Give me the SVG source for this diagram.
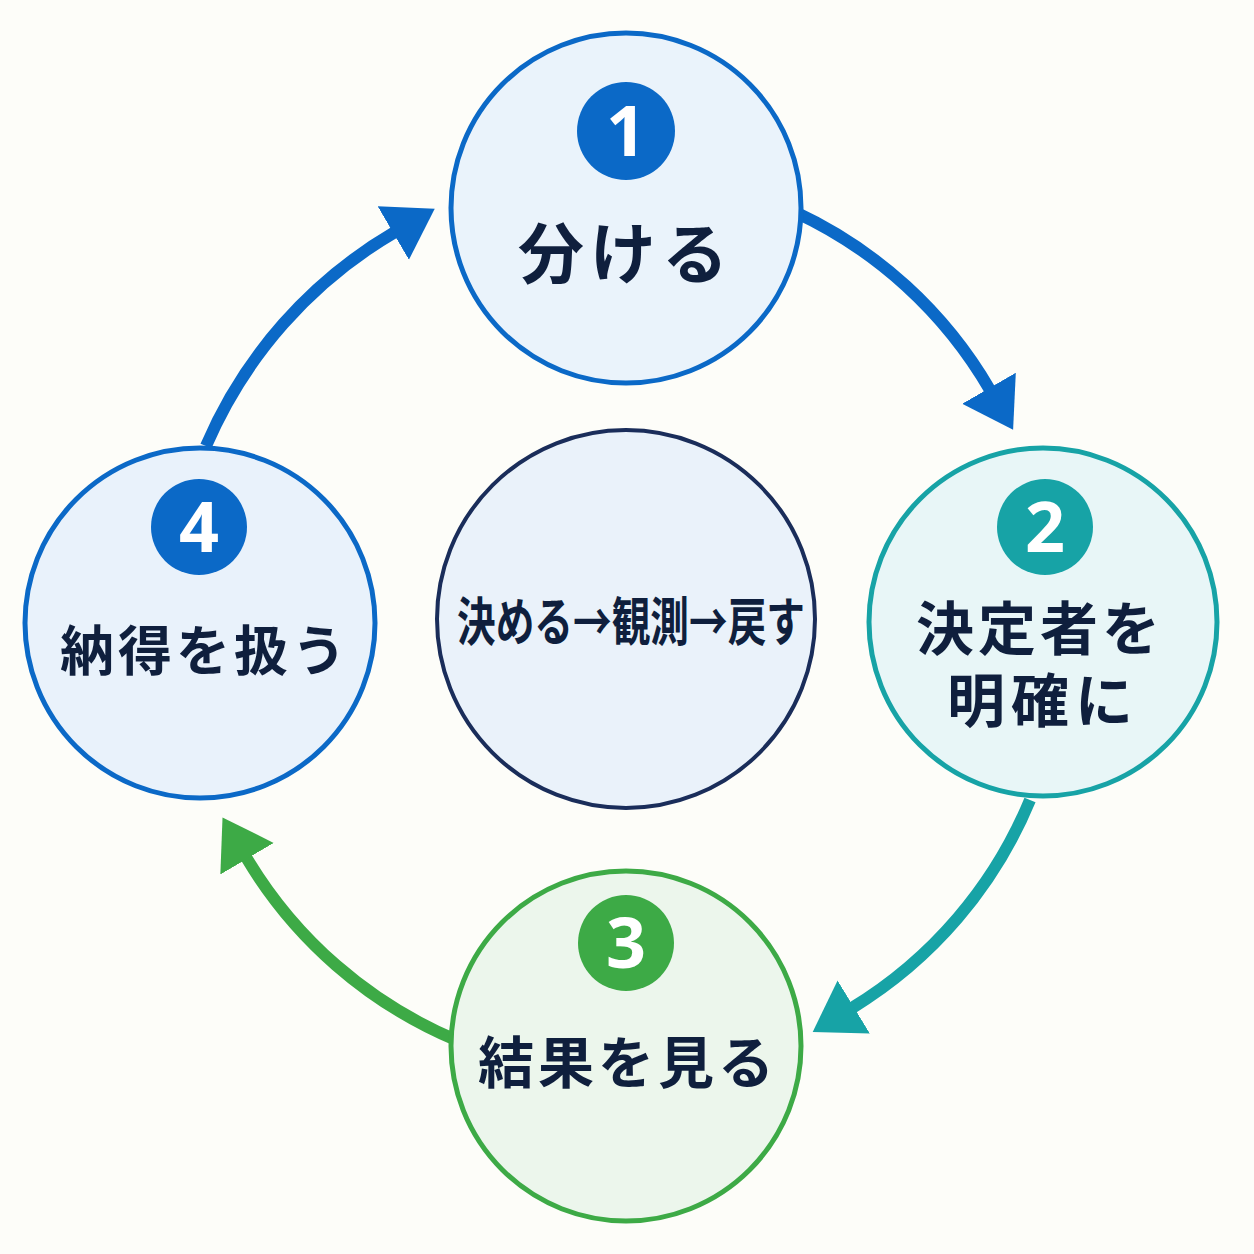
<svg xmlns="http://www.w3.org/2000/svg" width="1254" height="1254" viewBox="0 0 1254 1254">
<style>
.lbl{font-family:"Noto Sans CJK JP","Noto Sans",sans-serif;font-weight:700;fill:#0f1f3d;text-anchor:middle}
.num{font-family:"Noto Sans","Liberation Sans",sans-serif;font-weight:700;fill:#ffffff;text-anchor:middle;font-size:70px}
.conn{fill:none;stroke-width:12;stroke-linecap:butt}
</style>
<defs>
<marker id="hb" markerUnits="userSpaceOnUse" viewBox="0 -32 50 64" markerWidth="50" markerHeight="64" refX="2" refY="0" orient="auto"><path d="M0,-31 L48,0 L0,31 Z" fill="#0b69c7"/></marker>
<marker id="ht" markerUnits="userSpaceOnUse" viewBox="0 -32 50 64" markerWidth="50" markerHeight="64" refX="2" refY="0" orient="auto"><path d="M0,-31 L48,0 L0,31 Z" fill="#17a3a6"/></marker>
<marker id="hg" markerUnits="userSpaceOnUse" viewBox="0 -32 50 64" markerWidth="50" markerHeight="64" refX="2" refY="0" orient="auto"><path d="M0,-31 L48,0 L0,31 Z" fill="#3daa46"/></marker>
</defs>
<rect width="1254" height="1254" fill="#fdfdf9"/>
<g id="connectors">
<path class="conn" d="M795 212 A440 440 0 0 1 990 390" stroke="#0b69c7" marker-end="url(#hb)"/>
<path class="conn" d="M1030 800 A440 440 0 0 1 852 1008" stroke="#17a3a6" marker-end="url(#ht)"/>
<path class="conn" d="M456 1040 A445 445 0 0 1 246 857" stroke="#3daa46" marker-end="url(#hg)"/>
<path class="conn" d="M206 446 A455 455 0 0 1 395 232" stroke="#0b69c7" marker-end="url(#hb)"/>
</g>
<g id="center">
<circle cx="626" cy="619" r="189" fill="#eaf2fa" stroke="#1a2d5a" stroke-width="4"/>
<text class="lbl" x="631" y="641" font-size="52" textLength="348" lengthAdjust="spacingAndGlyphs">決める→観測→戻す</text>
</g>
<g id="node1">
<circle cx="626" cy="208" r="175" fill="#eaf3fb" stroke="#0b69c7" stroke-width="5"/>
<circle cx="626" cy="131" r="49" fill="#0b69c7"/>
<text class="num" x="626" y="156">1</text>
<text class="lbl" x="626" y="278" font-size="66" letter-spacing="6">分ける</text>
</g>
<g id="node2">
<circle cx="1043" cy="622" r="174" fill="#e8f6f7" stroke="#17a3a6" stroke-width="5"/>
<circle cx="1045" cy="527" r="48" fill="#17a3a6"/>
<text class="num" x="1045" y="552">2</text>
<text class="lbl" x="1040" y="650" font-size="58" letter-spacing="4">決定者を</text>
<text class="lbl" x="1043" y="722" font-size="58" letter-spacing="6">明確に</text>
</g>
<g id="node3">
<circle cx="626" cy="1046" r="175" fill="#ecf6ec" stroke="#3daa46" stroke-width="5"/>
<circle cx="626" cy="943" r="48" fill="#3daa46"/>
<text class="num" x="626" y="968">3</text>
<text class="lbl" x="628" y="1083" font-size="56" letter-spacing="4">結果を見る</text>
</g>
<g id="node4">
<circle cx="200" cy="623" r="175" fill="#e9f2fb" stroke="#0b69c7" stroke-width="5"/>
<circle cx="199" cy="527" r="48" fill="#0b69c7"/>
<text class="num" x="199" y="552">4</text>
<text class="lbl" x="205" y="671" font-size="54" letter-spacing="4">納得を扱う</text>
</g>
</svg>
